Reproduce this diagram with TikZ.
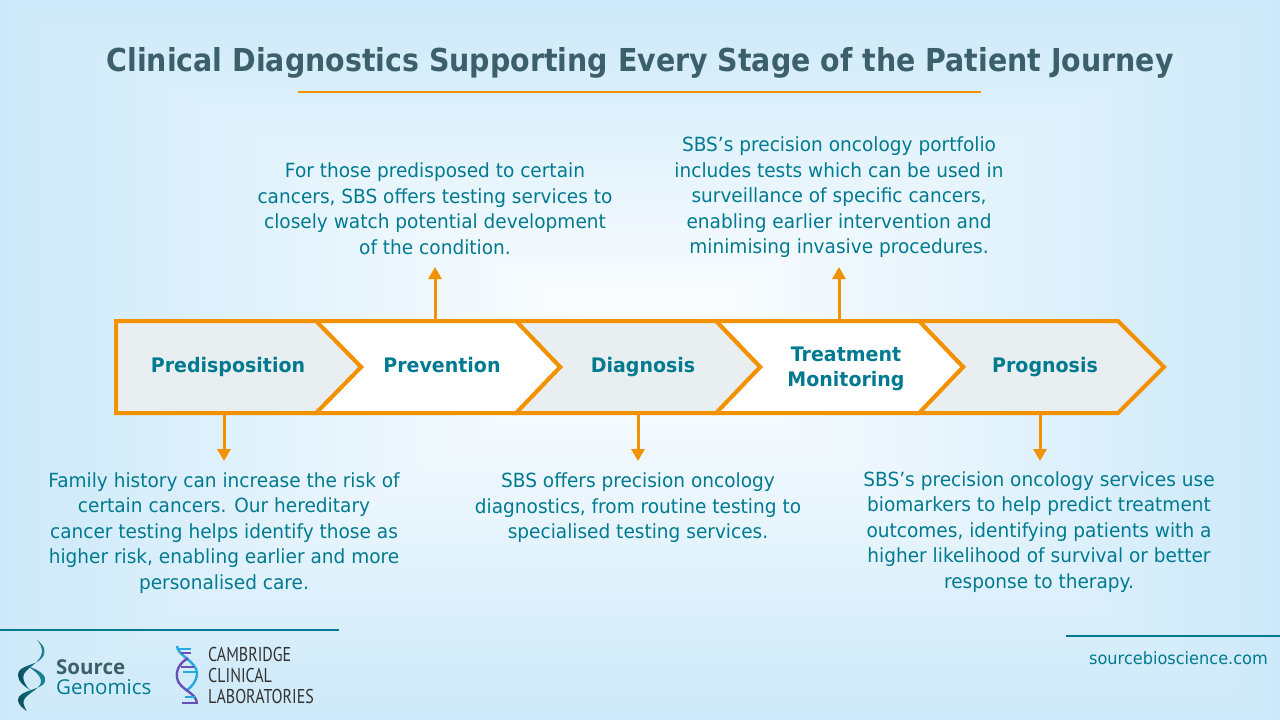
\documentclass[tikz,border=0pt]{standalone}
\usepackage{fontspec}
\setmainfont{DejaVu Sans}[FakeStretch=0.95]
\newfontfamily\titlefont{DejaVu Sans}[FakeStretch=0.9]
\newfontfamily\logofont{Open Sans}
\newfontfamily\camfont{PT Sans}[FakeStretch=0.8]
\usetikzlibrary{arrows.meta}
\definecolor{orangeline}{HTML}{F39200}
\definecolor{tealtext}{HTML}{007A91}
\definecolor{titlecol}{HTML}{3B5F6B}
\definecolor{greyfill}{HTML}{E9EFF0}
\definecolor{bgouter}{HTML}{CDE9F9}
\definecolor{helixdark}{HTML}{0A4F5E}
\definecolor{helixlight}{HTML}{1A8FA0}
\definecolor{dnablue}{HTML}{29A8E0}
\definecolor{dnapurple}{HTML}{6A4FB8}
\tikzset{
  x=1pt,y=-1pt,
  chev/.style={draw=orangeline,line width=4pt,miter limit=10,line join=miter},
  chevlabel/.style={font=\bfseries\fontsize{20}{25.5}\selectfont,text=tealtext,align=center,inner sep=0pt},
  desc/.style={font=\fontsize{19.5}{25.5}\selectfont,text=tealtext,align=center,inner sep=0pt},
  link/.style={draw=orangeline,line width=3pt,-{Triangle[length=12pt,width=13pt]}},
  rulel/.style={draw=tealtext,line width=1.6pt},
  helix/.style={left color=helixdark,right color=helixlight,draw=none},
  strand/.style={line width=2.4pt},
  rung/.style={line width=2pt},
}
\begin{document}
\begin{tikzpicture}
\useasboundingbox (0,0) rectangle (1280,720);
% background: rectangular gradient
\fill[bgouter] (0,0) rectangle (1280,720);
\foreach \i in {1,...,100}{
  \pgfmathsetmacro{\t}{\i/100}
  \pgfmathsetmacro{\pct}{100*\t}
  \fill[white!\pct!bgouter] ({640-640*(1-\t)},{340-340*(1-\t)}) rectangle ({640+640*(1-\t)},{340+380*(1-\t)});
}
% title
\node[inner sep=0pt,font=\titlefont\bfseries\fontsize{31.6}{36}\selectfont,text=titlecol] (title) at (640,63) {Clinical Diagnostics Supporting Every Stage of the Patient Journey};
\coordinate (ta) at (298,92); \coordinate (tb) at (981,92);
\draw[orangeline,line width=1.4pt] (ta) -- (tb);
% chevrons
\draw[chev,fill=greyfill] (919,321) -- (1118,321) -- (1164,367) -- (1118,413) -- (919,413) -- (963,367) -- cycle;
\draw[chev,fill=white] (716,321) -- (919,321) -- (963,367) -- (919,413) -- (716,413) -- (760,367) -- cycle;
\draw[chev,fill=greyfill] (516,321) -- (716,321) -- (760,367) -- (716,413) -- (516,413) -- (560,367) -- cycle;
\draw[chev,fill=white] (316,321) -- (516,321) -- (560,367) -- (516,413) -- (316,413) -- (361,367) -- cycle;
\draw[chev,fill=greyfill] (116,321) -- (316,321) -- (361,367) -- (316,413) -- (116,413) -- cycle;
\node[chevlabel] (n1) at (228,367) {Predisposition};
\node[chevlabel] (n2) at (442,365) {Prevention};
\node[chevlabel] (n3) at (643,367) {Diagnosis};
\node[chevlabel] (n4) at (846,369) {Treatment\\Monitoring};
\node[chevlabel] (n5) at (1045,367) {Prognosis};
% descriptions
\node[desc] (d2) at (435,208.5) {For those predisposed to certain\\cancers, SBS offers testing services to\\closely watch potential development\\of the condition.};
\node[desc] (d4) at (839,197.5) {SBS’s precision oncology portfolio\\includes tests which can be used in\\surveillance of specific cancers,\\enabling earlier intervention and\\minimising invasive procedures.};
\node[desc] (d1) at (224,533) {Family history can increase the risk of\\certain cancers. Our hereditary\\cancer testing helps identify those as\\higher risk, enabling earlier and more\\personalised care.};
\node[desc] (d3) at (638,508) {SBS offers precision oncology\\diagnostics, from routine testing to\\specialised testing services.};
\node[desc] (d5) at (1039,532) {SBS’s precision oncology services use\\biomarkers to help predict treatment\\outcomes, identifying patients with a\\higher likelihood of survival or better\\response to therapy.};
% connectors
\coordinate (a2) at (435,321); \coordinate (a2e) at (435,267);
\coordinate (a4) at (839,321); \coordinate (a4e) at (839,267);
\coordinate (a1) at (224,413); \coordinate (a1e) at (224,461);
\coordinate (a3) at (638,413); \coordinate (a3e) at (638,461);
\coordinate (a5) at (1040,413); \coordinate (a5e) at (1040,461);
\draw[link] (a2) -- (a2e);
\draw[link] (a4) -- (a4e);
\draw[link] (a1) -- (a1e);
\draw[link] (a3) -- (a3e);
\draw[link] (a5) -- (a5e);
% footer
\coordinate (fa) at (0,630); \coordinate (fb) at (339,630);
\coordinate (fc) at (1066,636); \coordinate (fd) at (1280,636);
\draw[rulel] (fa) -- (fb);
\draw[rulel] (fc) -- (fd);
\node[anchor=east,inner sep=0pt,font=\fontsize{17}{20}\selectfont,text=tealtext] (web) at (1268,658) {sourcebioscience.com};
% source genomics logo
\path[helix] (36.7,640) .. controls (46,646) and (47,654) .. (40,660) .. controls (32,666) and (18,666) .. (18,675) .. controls (18,682) and (24,686) .. (30,690) .. controls (24,684) and (22,678) .. (24,674) .. controls (28,667) and (41,662) .. (42,652) .. controls (42,647) and (40,643) .. (36.7,640) -- cycle;
\path[helix] (28.3,666.7) .. controls (40,670) and (47,676) .. (45,682) .. controls (42,690) and (18,690) .. (18,700) .. controls (18,704) and (22,708) .. (26.7,711) .. controls (24,706) and (22,702) .. (25,698) .. controls (30,692) and (42,688) .. (41,680) .. controls (40,675) and (34,670) .. (28.3,666.7) -- cycle;
\node[anchor=west,inner sep=0pt,font=\logofont\bfseries\fontsize{20.5}{20}\selectfont,text=titlecol] (src) at (56,667) {Source};
\node[anchor=west,inner sep=0pt,font=\logofont\fontsize{20.5}{20}\selectfont,text=tealtext] (gen) at (56,687) {Genomics};
% cambridge logo
\draw[dnablue,strand] (177,646) .. controls (177,655) and (197,662) .. (197,673) .. controls (197,682) and (190,688) .. (186,691);
\draw[dnapurple,strand] (188,658) .. controls (178,664) and (176,672) .. (177,678) .. controls (179,690) and (197,692) .. (197,704);
\draw[dnablue,rung] (177,649) -- (191,649);
\draw[dnapurple,rung] (181,653) -- (191,653);
\draw[dnapurple,rung] (181,667) -- (194,667);
\draw[dnablue,rung] (183,672) -- (197,672);
\draw[dnablue,rung] (185,697) -- (195,697);
\draw[dnapurple,rung] (182,703) -- (197,703);
\node[anchor=west,inner sep=0pt,font=\camfont\fontsize{20}{21}\selectfont,text=black!80,align=left] (cam) at (208,675) {CAMBRIDGE\\CLINICAL\\LABORATORIES};
\end{tikzpicture}
\end{document}
